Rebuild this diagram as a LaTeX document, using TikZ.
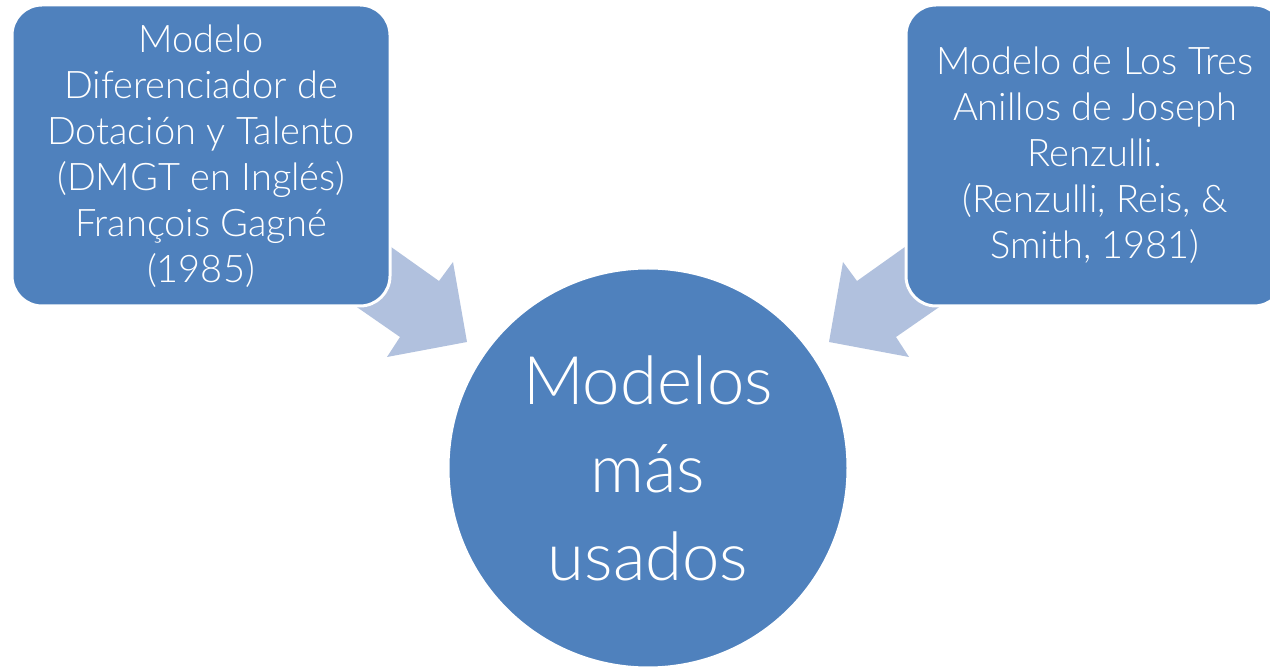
\documentclass[tikz,border=0pt]{standalone}
\usepackage{fontspec}
\setmainfont{Lato}[UprightFont=* Light]
\definecolor{boxblue}{RGB}{79,129,189}
\definecolor{arrowblue}{RGB}{177,193,222}
\begin{document}
\begin{tikzpicture}[x=1pt,y=1pt,
  mbox/.style={draw=white,line width=3pt,fill=boxblue,rounded corners=30pt,inner sep=0pt},
  mtext/.style={text=white,align=center,font=\fontsize{38}{46}\selectfont},
  blockarrow/.style={fill=arrowblue,draw=none}]
\useasboundingbox (0,0) rectangle (1270,667);
\clip (0,0) rectangle (1270,667);
% arrows (drawn first, under boxes)
\fill[blockarrow] (370,435) -- (439,386) -- (453,405) -- (467,325) -- (387,310) -- (400,330) -- (338,373) -- cycle;
\fill[blockarrow] (926,435) -- (857,386) -- (843,405) -- (829,325) -- (909,310) -- (896,330) -- (958,373) -- cycle;
% boxes
\draw[mbox] (12,662) rectangle (390,361);
\node[mtext] (lt) at (201,511) {Modelo\\Diferenciador de\\Dotación y Talento\\(DMGT en Inglés)\\François Gagné\\(1985)};
\draw[mbox] (906,662) rectangle (1284,361);
\node[mtext] (rt) at (1095,512) {Modelo de Los Tres\\Anillos de Joseph\\Renzulli.\\(Renzulli, Reis, \&\\Smith, 1981)};
% circle
\node[circle,draw=white,line width=3pt,fill=boxblue,minimum size=400pt,inner sep=0pt,
  text=white,align=center,font=\fontsize{67}{88}\selectfont] (c) at (648,199) {Modelos\\más\\usados};
\end{tikzpicture}
\end{document}
